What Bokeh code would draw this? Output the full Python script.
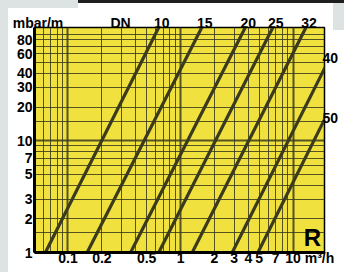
import math
from bokeh.plotting import figure
from bokeh.models import (Range1d, FixedTicker, Grid, Label, LogAxis,
                          CustomJSTickFormatter, InlineStyleSheet)
from bokeh.embed import file_html
from bokeh.resources import INLINE

# ---------------- data ----------------
dn_sizes = ["10", "15", "20", "25", "32", "40", "50"]
flow_at_1mbar = [0.063, 0.148, 0.36, 0.64, 1.27, 2.88, 4.87]      # m³/h at R = 1 mbar/m
flow_at_100mbar = [0.63, 1.52, 3.7, 6.5, 12.8, 28.5, 48.0]       # m³/h at R = 100 mbar/m

x_tick_values = [0.1, 0.2, 0.5, 1, 2, 3, 4, 5, 7, 10]
y_tick_values = [1, 2, 3, 5, 7, 10, 20, 30, 40, 60, 80]

x_grid_thin = [0.06, 0.07, 0.08, 0.09, 0.2, 0.3, 0.4, 0.5, 0.6, 0.7, 0.8, 0.9,
               2, 3, 4, 5, 6, 7, 8, 9, 20]
x_grid_thick = [0.1, 1, 10]
y_grid_thin = [1.5, 2, 3, 4, 5, 6, 7, 8, 9, 15, 20, 30, 40, 50, 60, 70, 80, 90]
y_grid_thick = [10]

x_unit, y_unit, dn_title, corner_mark = "m³/h", "mbar/m", "DN", "R"

x_min, x_max = 0.0504, 19.0
y_min, y_max = 1.0, 103.0

# ---------------- layout / style ----------------
W, H = 344, 272
FL, FR, FT, FB = 34, 324, 27, 252          # frame edges in page pixels
YELLOW = "#f1e13e"
INK = "#3a3a1c"
PAGE_GREY = "#dde3e3"
FONT = "Liberation Sans"

LX0, LX1 = math.log10(x_min), math.log10(x_max)
LY0, LY1 = math.log10(y_min), math.log10(y_max)


def xd(px):   # page pixel -> data x
    return 10 ** (LX0 + (px - FL) / (FR - FL) * (LX1 - LX0))


def xp(q):    # data x -> page pixel
    return FL + (math.log10(q) - LX0) / (LX1 - LX0) * (FR - FL)


def yd(py):   # page pixel -> data y
    return 10 ** (LY0 + (FB - py) / (FB - FT) * (LY1 - LY0))


def yp(r):    # data y -> page pixel
    return FB - (math.log10(r) - LY0) / (LY1 - LY0) * (FB - FT)


p = figure(width=W, height=H, x_axis_type="log", y_axis_type="log",
           x_range=Range1d(x_min, x_max), y_range=Range1d(y_min, y_max),
           output_backend="svg", toolbar_location=None,
           min_border_left=FL, min_border_right=W - FR, min_border_top=FT,
           min_border_bottom=H - FB, background_fill_color=YELLOW,
           border_fill_color=None, border_fill_alpha=0,
           outline_line_color="black", outline_line_width=1.5)

# page surroundings painted behind the (transparent) border
BG = ("linear-gradient(#1e1e1e,#1e1e1e) 78px 0px / 266px 3px no-repeat, "
      f"linear-gradient({PAGE_GREY},{PAGE_GREY}) 0px 0px / 78px 8px no-repeat, "
      f"linear-gradient({PAGE_GREY},{PAGE_GREY}) 0px 0px / 8px 100% no-repeat, "
      f"linear-gradient({PAGE_GREY},{PAGE_GREY}) 333px 3px / 11px 27px no-repeat, "
      "#ffffff")
p.styles = {"background": BG}
p.stylesheets = [InlineStyleSheet(css=f":host {{ background: {BG}; }}")]

p.xgrid.visible = False
p.ygrid.visible = False
for dim, ticks, w in [(0, x_grid_thin, 1.0), (0, x_grid_thick, 2.0),
                      (1, y_grid_thin, 1.0), (1, y_grid_thick, 2.0)]:
    g = Grid(dimension=dim, ticker=FixedTicker(ticks=ticks),
             grid_line_color=INK, grid_line_width=w, grid_line_alpha=0.85)
    p.add_layout(g, "center")

# pipe lines (straight in log-log), extended beyond the frame and clipped
xs, ys = [], []
for q1, q100 in zip(flow_at_1mbar, flow_at_100mbar):
    ratio = q100 / q1
    xs.append([q1 / ratio, q1, q100, q100 * ratio])
    ys.append([0.01, 1, 100, 10000])
p.multi_line(xs, ys, line_color=INK, line_width=3.2)


def label_formatter(positions, texts):
    return CustomJSTickFormatter(args=dict(pos=list(positions), txt=list(texts)), code="""
        for (let i = 0; i < pos.length; i++) {
            if (Math.abs(pos[i] - tick) <= 1e-6 * Math.abs(tick)) return txt[i];
        }
        return tick.toString();
    """)


def style_axis(ax, standoff):
    ax.axis_label = None
    ax.axis_label_standoff = 0
    ax.axis_line_color = "black"
    ax.axis_line_width = 3
    ax.major_tick_line_color = None
    ax.minor_tick_line_color = None
    ax.major_tick_out = 0
    ax.major_tick_in = 0
    ax.minor_tick_out = 0
    ax.minor_tick_in = 0
    ax.major_label_text_font = FONT
    ax.major_label_text_font_style = "bold"
    ax.major_label_text_font_size = "14px"
    ax.major_label_text_color = "black"
    ax.major_label_standoff = standoff


# bottom axis: values plus the unit label to the right of "10"
unit_pos = xd(319)
bx = x_tick_values + [unit_pos]
bt = [str(v) for v in x_tick_values] + [x_unit]
p.xaxis.ticker = FixedTicker(ticks=bx, minor_ticks=[])
p.xaxis.formatter = label_formatter(bx, bt)
style_axis(p.xaxis[0], -3)

p.yaxis.ticker = FixedTicker(ticks=y_tick_values, minor_ticks=[])
p.yaxis.formatter = label_formatter(y_tick_values, [str(v) for v in y_tick_values])
style_axis(p.yaxis[0], 2)

# DN labels: at the top where a line leaves the top edge, else at the right edge
top_pos, top_txt, right_pos, right_txt = [xd(37.5), xd(120)], [y_unit, dn_title], [], []
right_lift = [10, 1]   # px the right-edge label sits above the line's exit
k = 0
for name, q1, q100 in zip(dn_sizes, flow_at_1mbar, flow_at_100mbar):
    slope = 2.0 / math.log10(q100 / q1)
    q_top = q1 * 10 ** (math.log10(y_max) / slope)
    if q_top <= x_max:
        top_pos.append(xd(xp(q_top) + 3))
        top_txt.append(name)
    else:
        r_exit = 10 ** (slope * math.log10(x_max / q1))
        right_pos.append(yd(yp(r_exit) - right_lift[k]))
        right_txt.append(name)
        k += 1

top_axis = LogAxis(ticker=FixedTicker(ticks=top_pos, minor_ticks=[]),
                   formatter=label_formatter(top_pos, top_txt))
style_axis(top_axis, -3)
top_axis.axis_line_color = None
p.add_layout(top_axis, "above")

right_axis = LogAxis(ticker=FixedTicker(ticks=right_pos, minor_ticks=[]),
                     formatter=label_formatter(right_pos, right_txt))
style_axis(right_axis, -2)
right_axis.axis_line_color = None
p.add_layout(right_axis, "right")

p.add_layout(Label(x=xd(312), y=yd(237), text=corner_mark, text_align="center",
                   text_baseline="middle", text_font=FONT, text_font_style="bold",
                   text_font_size="24px", text_color="black"))

open("out.html", "w").write(file_html(p, INLINE))
